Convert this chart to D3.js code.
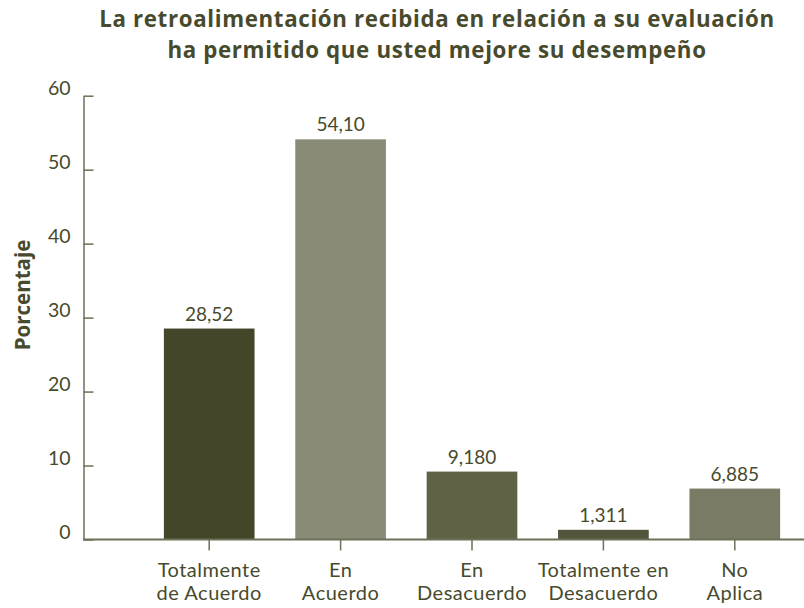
<!DOCTYPE html>
<html>
<head>
<meta charset="utf-8">
<script src="https://cdn.jsdelivr.net/npm/d3@7"></script>
<style>
  body { margin: 0; background: #fff; }
  svg { display: block; font-family: Lato, "Open Sans", sans-serif; }
</style>
</head>
<body>
<svg id="chart" width="804" height="608"></svg>
<script>
// data
var categories = [["Totalmente", "de Acuerdo"], ["En", "Acuerdo"], ["En", "Desacuerdo"],
    ["Totalmente en", "Desacuerdo"], ["No", "Aplica"]];
var values = [28.52, 54.10, 9.180, 1.311, 6.885];
var valueLabels = ["28,52", "54,10", "9,180", "1,311", "6,885"];
var yTicks = [0, 10, 20, 30, 40, 50, 60];
var titleLines = ["La retroalimentación recibida en relación a su evaluación",
    "ha permitido que usted mejore su desempeño"];

var barColors = ["#434628", "#8a8b76", "#5f6244", "#52553a", "#7a7b64"];
var textColor = "#474a2c";
var axisColor = "#6e7057";

var svg = d3.select("#chart");

var x = d3.scaleBand()
    .domain(d3.range(categories.length))
    .range([143.5, 800.5])
    .paddingInner(0.31)
    .paddingOuter(0.155);

var y = d3.scaleLinear()
    .domain([0, 60])
    .range([539.5, 95.7]);

// title (wide humanist bold, like the original)
svg.append("g").selectAll("text")
    .data(titleLines)
    .enter().append("text")
    .attr("x", 437)
    .attr("y", function(d, i) { return 27 + i * 30.5; })
    .attr("text-anchor", "middle")
    .style("font-family", "'Open Sans', sans-serif")
    .style("font-size", "22.3px")
    .style("letter-spacing", "0.65px")
    .style("font-weight", "bold")
    .style("fill", textColor)
    .text(function(d) { return d; });

// y axis: ticks point inward, labels sit just above each tick
var yAxis = d3.axisLeft(y)
    .tickValues(yTicks)
    .tickSizeInner(-10)
    .tickSizeOuter(0)
    .tickPadding(13);

var gy = svg.append("g")
    .attr("transform", "translate(83.5,0)")
    .call(yAxis);
gy.select(".domain").attr("stroke", axisColor).attr("stroke-width", 1.5);
gy.selectAll(".tick line").attr("stroke", axisColor).attr("stroke-width", 1.5);
gy.selectAll(".tick text")
    .attr("dy", "-1px")
    .style("font-size", "19.5px")
    .style("font-family", "Lato, sans-serif")
    .style("fill", textColor);

svg.append("text")
    .attr("transform", "translate(30,295) rotate(-90)")
    .attr("text-anchor", "middle")
    .style("font-family", "'Open Sans', sans-serif")
    .style("font-size", "20.5px")
    .style("font-weight", "bold")
    .style("fill", textColor)
    .text("Porcentaje");

// bars
svg.append("g").selectAll("rect")
    .data(values)
    .enter().append("rect")
    .attr("x", function(d, i) { return x(i); })
    .attr("y", function(d) { return y(d); })
    .attr("width", x.bandwidth())
    .attr("height", function(d) { return y(0) - y(d); })
    .style("fill", function(d, i) { return barColors[i]; });

// value labels
svg.append("g").selectAll("text")
    .data(values)
    .enter().append("text")
    .attr("x", function(d, i) { return x(i) + x.bandwidth() / 2; })
    .attr("y", function(d) { return y(d) - 8; })
    .attr("text-anchor", "middle")
    .style("font-size", "19px")
    .style("fill", textColor)
    .text(function(d, i) { return valueLabels[i]; });

// baseline
svg.append("line")
    .attr("x1", 83).attr("x2", 804)
    .attr("y1", y(0)).attr("y2", y(0))
    .attr("stroke", axisColor)
    .attr("stroke-width", 2);

// category ticks and labels
var cat = svg.append("g").selectAll("g")
    .data(categories)
    .enter().append("g")
    .attr("transform", function(d, i) { return "translate(" + (x(i) + x.bandwidth() / 2) + ",0)"; });

cat.append("line")
    .attr("y1", y(0)).attr("y2", y(0) + 11)
    .attr("stroke", axisColor)
    .attr("stroke-width", 1.5);

cat.append("text")
    .attr("text-anchor", "middle")
    .style("font-size", "20px")
    .style("letter-spacing", "0.5px")
    .style("fill", textColor)
    .selectAll("tspan")
    .data(function(d) { return d; })
    .enter().append("tspan")
    .attr("x", 0)
    .attr("y", function(d, i) { return 577 + i * 23; })
    .text(function(d) { return d; });
</script>
</body>
</html>
